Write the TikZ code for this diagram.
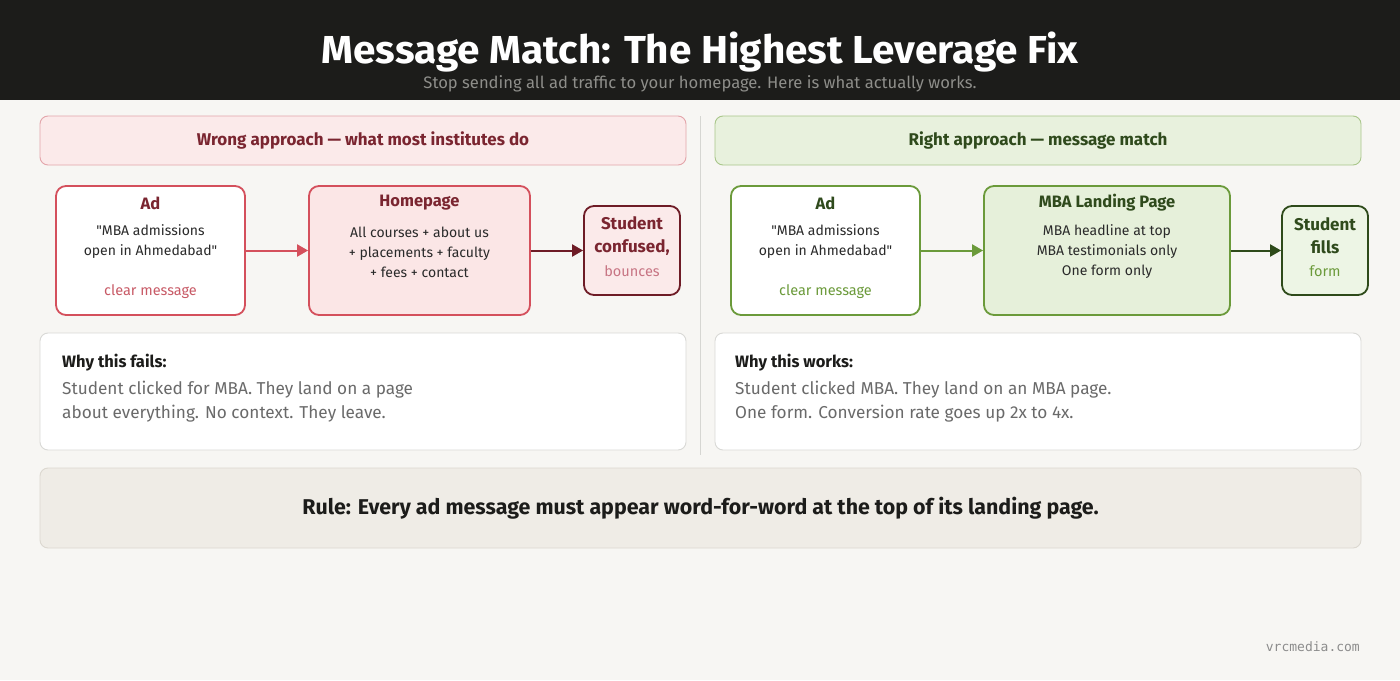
\documentclass[tikz,border=0pt]{standalone}
\usepackage{fontspec}
\setmainfont{Fira Sans}
\setmonofont{DejaVu Sans Mono}
\newfontfamily\titlefont[FakeStretch=1.04]{Fira Sans}
\usetikzlibrary{arrows.meta}
\definecolor{bg}{HTML}{F7F6F3}
\definecolor{hdr}{HTML}{1C1C1A}
\definecolor{subgray}{HTML}{8E8E8A}
\definecolor{redtxt}{HTML}{7A2530}
\definecolor{redline}{HTML}{D4505C}
\definecolor{redfill}{HTML}{FBE6E6}
\definecolor{redhead}{HTML}{FBEAEA}
\definecolor{redheadline}{HTML}{E3A5AA}
\definecolor{reddark}{HTML}{6E1C26}
\definecolor{redsoft}{HTML}{C85A66}
\definecolor{redsoft2}{HTML}{C77483}
\definecolor{grntxt}{HTML}{2F4A1C}
\definecolor{grnline}{HTML}{6B9A3A}
\definecolor{grnfill}{HTML}{E6F0DA}
\definecolor{grnhead}{HTML}{E8F1DD}
\definecolor{grnheadline}{HTML}{A9C68A}
\definecolor{grndark}{HTML}{2E4A1A}
\definecolor{grnfill2}{HTML}{EDF5E5}
\definecolor{bodytxt}{HTML}{2A2A2A}
\definecolor{graytxt}{HTML}{6A6A6A}
\definecolor{cardline}{HTML}{D9D9D6}
\definecolor{rulefill}{HTML}{EFECE6}
\definecolor{ruleline}{HTML}{DCD8D0}
\definecolor{divider}{HTML}{D6D6D2}
\definecolor{urlgray}{HTML}{8C8C8C}
\tikzset{
  box/.style={draw, rounded corners=10pt, line width=1.8pt, inner sep=0pt, anchor=center},
  headbox/.style={draw, rounded corners=8pt, line width=0.9pt, inner sep=0pt, anchor=center, minimum width=646pt, minimum height=49pt},
  card/.style={draw=cardline, fill=white, rounded corners=8pt, line width=0.9pt, inner sep=0pt, anchor=center, minimum width=646pt, minimum height=117pt},
  headtitle/.style={font=\fontsize{17}{20}\selectfont\bfseries, inner sep=0pt, anchor=center},
  boxtitle/.style={font=\fontsize{16.5}{19}\selectfont\bfseries, inner sep=0pt, anchor=center},
  studtitle/.style={font=\fontsize{17}{23}\selectfont\bfseries, inner sep=0pt, anchor=center, align=center},
  boxbody/.style={font=\fontsize{14}{20}\selectfont, text=bodytxt, inner sep=0pt, anchor=center, align=center},
  boxnote/.style={font=\fontsize{14.5}{17}\selectfont, inner sep=0pt, anchor=center},
  flow/.style={line width=2pt, -{Triangle[length=11pt,width=12pt]}},
  cardtitle/.style={font=\fontsize{16.5}{19}\selectfont\bfseries, text=hdr, inner sep=0pt, anchor=base west},
  cardbody/.style={font=\fontsize{17.2}{24}\selectfont, text=graytxt, inner sep=0pt, anchor=north west, align=left},
}
\begin{document}
\begin{tikzpicture}[x=1pt,y=-1pt]
\useasboundingbox (0,0) rectangle (1400,680);
\fill[bg] (0,0) rectangle (1400,680);
\fill[hdr] (0,0) rectangle (1400,100);
\node[inner sep=0pt, anchor=base, text=white, font=\titlefont\fontsize{39}{42}\selectfont\bfseries] (title) at (700,63) {Message Match: The Highest Leverage Fix};
\node[inner sep=0pt, anchor=base, text=subgray, font=\fontsize{16.6}{19}\selectfont] (subtitle) at (700,88) {Stop sending all ad traffic to your homepage. Here is what actually works.};

% divider
\coordinate (dtop) at (700,116);
\coordinate (dbot) at (700,455);
\draw[divider, line width=0.9pt] (dtop) -- (dbot);

% headers
\node[headbox, draw=redheadline, fill=redhead] (lhead) at (363,140.5) {};
\node[headtitle, text=redtxt] at (lhead.center) {Wrong approach — what most institutes do};
\node[headbox, draw=grnheadline, fill=grnhead] (rhead) at (1038,140.5) {};
\node[headtitle, text=grntxt] at (rhead.center) {Right approach — message match};

% left flow
\node[box, draw=redline, fill=white, minimum width=189pt, minimum height=129pt] (ad1) at (150.5,250.5) {};
\node[boxtitle, text=redtxt] at (150.5,203) {Ad};
\node[boxbody] at (150.5,242) {\textquotedbl MBA admissions\\open in Ahmedabad\textquotedbl};
\node[boxnote, text=redsoft] at (150.5,292) {clear message};

\node[box, draw=redline, fill=redfill, minimum width=221pt, minimum height=129pt] (home) at (419.5,250.5) {};
\node[boxtitle, text=redtxt] at (419.5,203) {Homepage};
\node[boxbody] at (419.5,252) {All courses + about us\\+ placements + faculty\\+ fees + contact};

\node[box, draw=reddark, fill=redhead, minimum width=96pt, minimum height=89pt] (stud1) at (632,250.5) {};
\node[studtitle, text=redtxt] at (632,236) {Student\\confused,};
\node[boxnote, text=redsoft2] at (632,271) {bounces};

\draw[flow, redline] (ad1) -- (home);
\draw[flow, reddark] (home) -- (stud1);

% right flow
\node[box, draw=grnline, fill=white, minimum width=189pt, minimum height=129pt] (ad2) at (825.5,250.5) {};
\node[boxtitle, text=grntxt] at (825.5,203) {Ad};
\node[boxbody] at (825.5,242) {\textquotedbl MBA admissions\\open in Ahmedabad\textquotedbl};
\node[boxnote, text=grnline] at (825.5,292) {clear message};

\node[box, draw=grnline, fill=grnfill, minimum width=246pt, minimum height=129pt] (land) at (1107,250.5) {};
\node[boxtitle, text=grntxt] at (1107,203) {MBA Landing Page};
\node[boxbody] at (1107,252) {MBA headline at top\\MBA testimonials only\\One form only};

\node[box, draw=grndark, fill=grnfill2, minimum width=86pt, minimum height=89pt] (stud2) at (1325,250.5) {};
\node[studtitle, text=grntxt] at (1325,236) {Student\\fills};
\node[boxnote, text=grnline] at (1325,271) {form};

\draw[flow, grnline] (ad2) -- (land);
\draw[flow, grndark] (land) -- (stud2);

% cards
\node[card] (lcard) at (363,391.5) {};
\node[cardtitle] at (62,367) {Why this fails:};
\node[cardbody] at (62,381) {Student clicked for MBA. They land on a page\\about everything. No context. They leave.};
\node[card] (rcard) at (1038,391.5) {};
\node[cardtitle] at (735,367) {Why this works:};
\node[cardbody] at (735,381) {Student clicked MBA. They land on an MBA page.\\One form. Conversion rate goes up 2x to 4x.};

% rule
\node[draw=ruleline, fill=rulefill, rounded corners=8pt, line width=0.9pt, minimum width=1321pt, minimum height=80pt, inner sep=0pt, anchor=center] (rule) at (700.5,508) {};
\node[inner sep=0pt, anchor=center, text=hdr, font=\fontsize{21.4}{24}\selectfont\bfseries] at (rule.center) {Rule: Every ad message must appear word-for-word at the top of its landing page.};

\node[inner sep=0pt, anchor=base east, text=urlgray, font=\ttfamily\fontsize{13}{15}\selectfont] (url) at (1360,651) {vrcmedia.com};
\end{tikzpicture}
\end{document}
